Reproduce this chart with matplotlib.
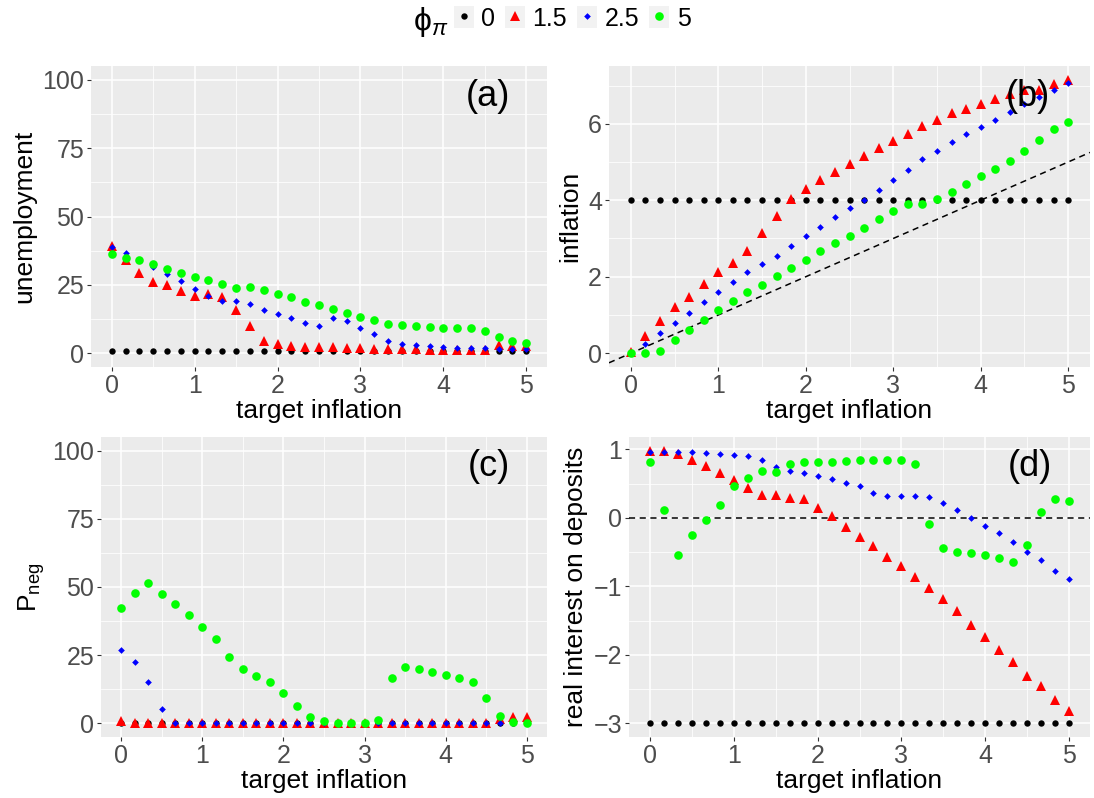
import matplotlib
matplotlib.use('Agg')
import matplotlib.pyplot as plt
from matplotlib.patches import Patch
from matplotlib.lines import Line2D
from matplotlib.legend_handler import HandlerTuple
from matplotlib.ticker import MultipleLocator

plt.rcParams['font.family'] = ['Liberation Sans', 'DejaVu Sans']
plt.rcParams['mathtext.fontset'] = 'custom'
plt.rcParams['mathtext.rm'] = 'Liberation Sans'
plt.rcParams['mathtext.it'] = 'Liberation Sans:italic'

# target inflation grid (x values)
target = [0.0, 0.167, 0.333, 0.5, 0.667, 0.833, 1.0, 1.167, 1.333, 1.5, 1.667,
          1.833, 2.0, 2.167, 2.333, 2.5, 2.667, 2.833, 3.0, 3.167, 3.333,
          3.5, 3.667, 3.833, 4.0, 4.167, 4.333, 4.5, 4.667, 4.833, 5.0]

phi_labels = ['0', '1.5', '2.5', '5']

# (a) unemployment
unemp_0 = [0.9] * 31
unemp_15 = [39.4, 34.2, 29.5, 26.0, 25.0, 22.7, 21.1, 21.8, 20.7, 15.8, 10.1,
            4.6, 3.4, 2.8, 2.4, 2.2, 2.2, 2.0, 2.0, 1.7, 1.6,
            1.5, 1.4, 1.3, 1.3, 1.3, 1.3, 1.2, 3.2, 2.7, 2.7]
unemp_25 = [38.8, 36.6, 34.0, 31.7, 29.0, 26.3, 23.6, 21.0, 19.2, 19.3, 18.0,
            16.0, 14.3, 13.0, 11.1, 10.0, 12.8, 11.9, 9.4, 7.0, 4.6,
            3.5, 3.1, 2.6, 2.3, 2.1, 2.0, 1.8, 1.7, 1.6, 1.6]
unemp_5 = [36.2, 34.7, 34.0, 32.5, 30.9, 29.5, 28.0, 26.7, 25.4, 23.8, 24.1,
           23.1, 21.8, 20.4, 18.9, 17.5, 16.1, 14.7, 13.3, 12.0, 10.6,
           10.5, 10.1, 9.7, 9.3, 9.2, 9.2, 8.1, 6.0, 4.6, 3.9]

# (b) inflation
infl_0 = [4.0] * 31
infl_15 = [0.02, 0.45, 0.85, 1.2, 1.46, 1.81, 2.12, 2.35, 2.68, 3.14, 3.59,
           4.02, 4.29, 4.52, 4.75, 4.95, 5.15, 5.37, 5.56, 5.73, 5.93,
           6.11, 6.27, 6.39, 6.52, 6.65, 6.78, 6.88, 6.88, 7.03, 7.15]
infl_25 = [0.0, 0.25, 0.52, 0.79, 1.06, 1.34, 1.61, 1.87, 2.12, 2.32, 2.55,
           2.81, 3.06, 3.29, 3.57, 3.81, 4.0, 4.28, 4.54, 4.8, 5.07,
           5.3, 5.51, 5.73, 5.92, 6.11, 6.32, 6.52, 6.69, 6.89, 7.06]
infl_5 = [0.0, 0.0, 0.06, 0.35, 0.61, 0.86, 1.12, 1.36, 1.59, 1.79, 2.03,
          2.23, 2.45, 2.66, 2.87, 3.07, 3.28, 3.51, 3.71, 3.9, 3.9,
          4.03, 4.22, 4.43, 4.63, 4.81, 5.02, 5.28, 5.58, 5.86, 6.05]

# (c) P_neg
pneg_0 = [0.0] * 31
pneg_15 = [1.0, 0.2, 0.2, 0.2, 0.2, 0.2, 0.2, 0.2, 0.2, 0.2, 0.2,
           0.2, 0.2, 0.2, 0.2, 0.2, 0.2, 0.2, 0.2, 0.2, 0.2,
           0.2, 0.2, 0.2, 0.2, 0.2, 0.2, 0.2, 1.5, 2.3, 2.4]
pneg_25 = [26.9, 22.5, 15.1, 5.3, 0.1, 0.1, 0.1, 0.1, 0.1, 0.1, 0.1,
           0.1, 0.1, 0.1, 0.1, 0.1, 0.1, 0.1, 0.1, 0.1, 0.1,
           0.1, 0.1, 0.1, 0.1, 0.1, 0.1, 0.1, 0.1, 0.1, 0.1]
pneg_5 = [42.4, 47.9, 51.5, 47.6, 43.8, 39.9, 35.3, 30.8, 24.4, 19.9, 17.5,
          15.3, 11.0, 6.3, 2.4, 0.9, 0.2, 0.0, 0.0, 1.3, 16.5,
          20.6, 20.1, 18.9, 17.7, 16.5, 15.0, 9.4, 2.7, 0.5, 0.1]

# (d) real interest on deposits
rate_0 = [-3.0] * 31
rate_15 = [0.98, 0.97, 0.93, 0.85, 0.75, 0.66, 0.55, 0.43, 0.34, 0.33, 0.29,
           0.27, 0.15, 0.02, -0.14, -0.28, -0.41, -0.57, -0.71, -0.87, -1.03,
           -1.19, -1.36, -1.56, -1.74, -1.93, -2.11, -2.31, -2.46, -2.66, -2.82]
rate_25 = [0.96, 0.96, 0.96, 0.96, 0.95, 0.93, 0.92, 0.9, 0.84, 0.74, 0.69,
           0.66, 0.61, 0.56, 0.51, 0.47, 0.36, 0.32, 0.32, 0.32, 0.3,
           0.22, 0.12, 0.0, -0.12, -0.22, -0.36, -0.5, -0.62, -0.78, -0.9]
rate_5 = [0.81, 0.12, -0.54, -0.25, -0.03, 0.18, 0.47, 0.58, 0.68, 0.67, 0.79,
          0.81, 0.82, 0.82, 0.83, 0.85, 0.85, 0.85, 0.85, 0.79, -0.09,
          -0.44, -0.5, -0.52, -0.54, -0.58, -0.65, -0.4, 0.08, 0.27, 0.25]

# marker style per phi_pi
styles = [dict(marker='o', color='black', ms=4.6),
          dict(marker='^', color='red', ms=6.8),
          dict(marker='D', color='blue', ms=3.4),
          dict(marker='o', color='#00FF00', ms=6.2)]

W, H = 1094, 798
fig = plt.figure(figsize=(W / 100, H / 100), dpi=100)


def box(l, t, r, b):
    return [l / W, 1 - b / H, (r - l) / W, (b - t) / H]


def style_axes(ax):
    ax.set_facecolor('#EBEBEB')
    for s in ax.spines.values():
        s.set_visible(False)
    ax.grid(True, which='major', color='white', lw=1.1)
    ax.grid(True, which='minor', color='white', lw=0.55)
    ax.set_axisbelow(True)
    ax.tick_params(which='major', length=3, width=0.8, color='#333333',
                   labelcolor='#4D4D4D', labelsize=18, pad=2)
    ax.tick_params(which='minor', length=0)
    ax.xaxis.set_major_locator(MultipleLocator(1))
    ax.xaxis.set_minor_locator(MultipleLocator(0.5))
    ax.set_xlim(-0.25, 5.25)
    ax.set_xlabel('target inflation', fontsize=19, labelpad=1)


panels = [
    (box(91, 66, 547, 367), [unemp_0, unemp_15, unemp_25, unemp_5],
     'unemployment', '(a)', (-5, 105), 25),
    (box(609, 66, 1090, 367), [infl_0, infl_15, infl_25, infl_5],
     'inflation', '(b)', (-0.36, 7.51), 2),
    (box(101, 437, 547, 737), [pneg_0, pneg_15, pneg_25, pneg_5],
     '$\\mathrm{P_{neg}}$', '(c)', (-5, 105), 25),
    (box(629, 437, 1090, 737), [rate_0, rate_15, rate_25, rate_5],
     'real interest on deposits', '(d)', (-3.2, 1.18), 1),
]

for i, (rect, series, ylab, tag, ylim, step) in enumerate(panels):
    ax = fig.add_axes(rect)
    style_axes(ax)
    ax.yaxis.set_major_locator(MultipleLocator(step))
    ax.yaxis.set_minor_locator(MultipleLocator(step / 2))
    ax.set_ylim(*ylim)
    ax.set_ylabel(ylab, fontsize=19, labelpad=4)
    if i == 1:
        ax.axline((0, 0), slope=1, color='black', lw=1.1, ls=(0, (4, 3)))
    if i == 3:
        ax.axhline(0, color='black', lw=1.1, ls=(0, (4, 3)))
    for y, st in zip(series, styles):
        ax.plot(target, y, ls='none', marker=st['marker'], color=st['color'],
                ms=st['ms'], mew=0)
    ax.text(0.87, 0.9, tag, transform=ax.transAxes, fontsize=26,
            ha='center', va='center')

# legend on top
handles = [(Patch(facecolor='#F2F2F2', edgecolor='none'),
            Line2D([], [], ls='none', marker=st['marker'], color=st['color'],
                   ms=st['ms'], mew=0)) for st in styles]
fig.legend(handles, phi_labels, loc='center', bbox_to_anchor=(0.523, 0.977),
           ncol=4, frameon=False, fontsize=18, handlelength=0.8,
           handleheight=1.0, handletextpad=0.3, columnspacing=0.4,
           handler_map={tuple: HandlerTuple(ndivide=1)})
fig.text(0.394, 0.972, '$\\mathrm{\\phi}_{\\pi}$', fontsize=23,
         ha='center', va='center')

fig.savefig('out.png', dpi=100)
